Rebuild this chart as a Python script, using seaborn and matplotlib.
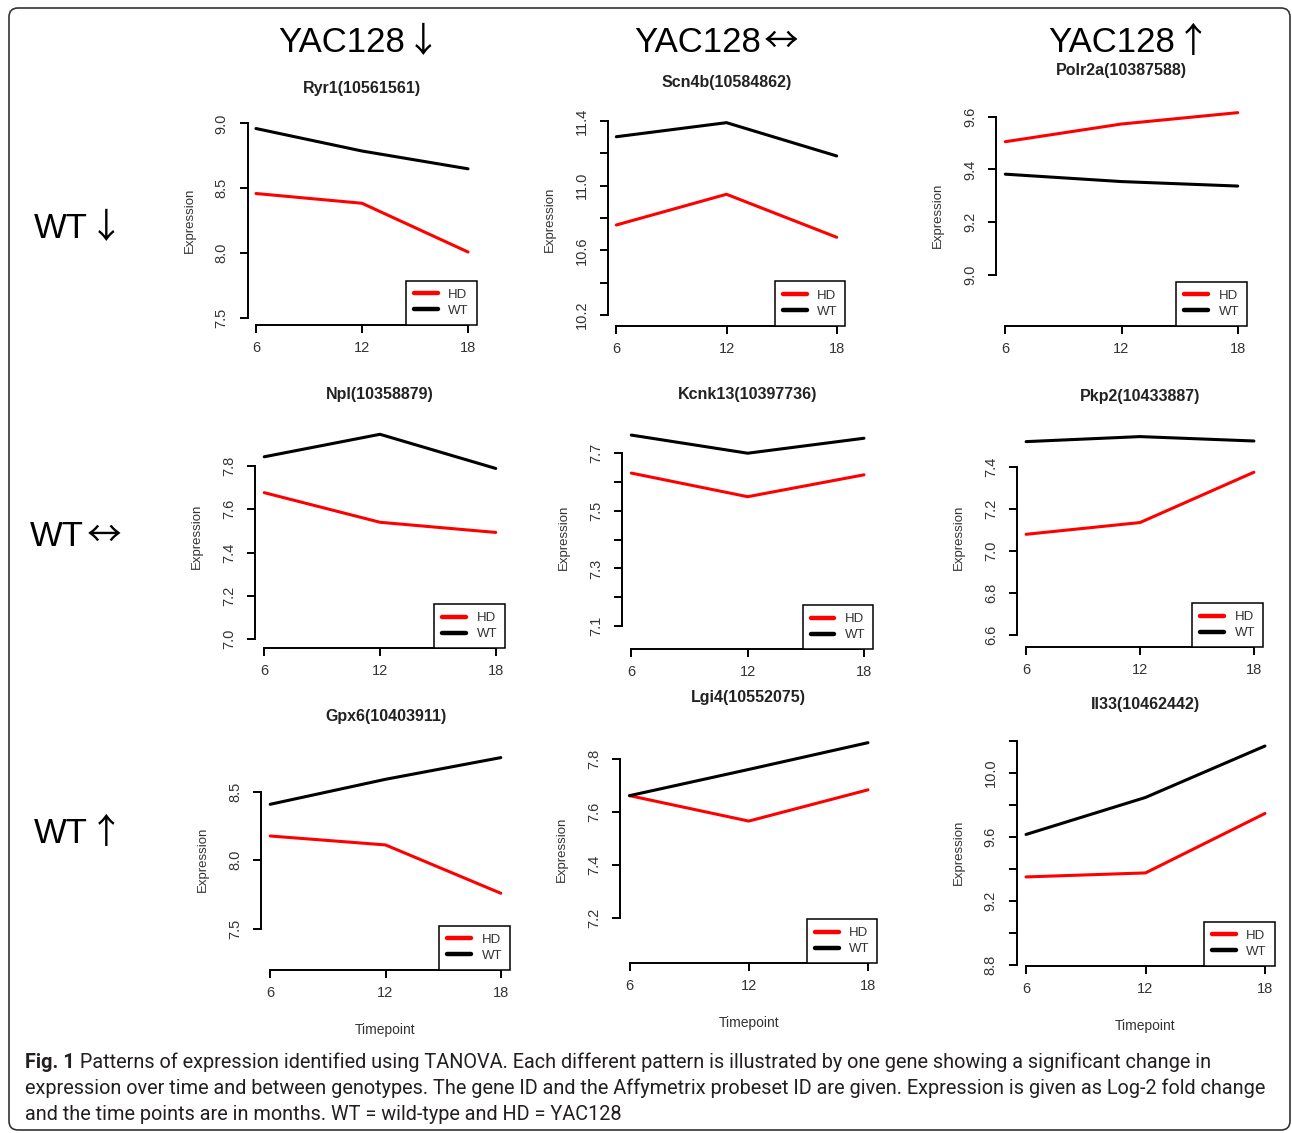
import numpy as np
import pandas as pd
import matplotlib
matplotlib.use("Agg")
import matplotlib.pyplot as plt
import seaborn as sns
from matplotlib.lines import Line2D
from matplotlib.patches import FancyBboxPatch
from matplotlib import font_manager

# ---- data ----
timepoints = [6, 12, 18]

genes = ["Ryr1(10561561)", "Scn4b(10584862)", "Polr2a(10387588)",
         "Npl(10358879)", "Kcnk13(10397736)", "Pkp2(10433887)",
         "Gpx6(10403911)", "Lgi4(10552075)", "Il33(10462442)"]

hd_values = [
    [8.46, 8.385, 8.01],
    [10.757, 10.947, 10.681],
    [9.505, 9.572, 9.615],
    [7.677, 7.540, 7.493],
    [7.631, 7.549, 7.625],
    [7.080, 7.136, 7.376],
    [8.177, 8.112, 7.760],
    [7.663, 7.567, 7.685],
    [9.350, 9.375, 9.746],
]
wt_values = [
    [8.96, 8.787, 8.65],
    [11.303, 11.39, 11.184],
    [9.382, 9.354, 9.337],
    [7.843, 7.947, 7.789],
    [7.763, 7.700, 7.752],
    [7.522, 7.546, 7.525],
    [8.408, 8.590, 8.748],
    [7.663, 7.762, 7.863],
    [9.615, 9.846, 10.167],
]

yticks = [
    [7.5, 8.0, 8.5, 9.0],
    [10.2, 10.4, 10.6, 10.8, 11.0, 11.2, 11.4],
    [9.0, 9.2, 9.4, 9.6],
    [7.0, 7.2, 7.4, 7.6, 7.8],
    [7.1, 7.2, 7.3, 7.4, 7.5, 7.6, 7.7],
    [6.6, 6.8, 7.0, 7.2, 7.4],
    [7.5, 8.0, 8.5],
    [7.2, 7.4, 7.6, 7.8],
    [8.8, 9.0, 9.2, 9.4, 9.6, 9.8, 10.0, 10.2],
]
ytick_labels = [
    ["7.5", "8.0", "8.5", "9.0"],
    ["10.2", "", "10.6", "", "11.0", "", "11.4"],
    ["9.0", "9.2", "9.4", "9.6"],
    ["7.0", "7.2", "7.4", "7.6", "7.8"],
    ["7.1", "", "7.3", "", "7.5", "", "7.7"],
    ["6.6", "6.8", "7.0", "7.2", "7.4"],
    ["7.5", "8.0", "8.5"],
    ["7.2", "7.4", "7.6", "7.8"],
    ["8.8", "", "9.2", "", "9.6", "", "10.0", ""],
]

col_headers = ["YAC128", "YAC128", "YAC128"]
col_arrows = ["\u2193", "\u2194", "\u2191"]
row_headers = ["WT", "WT", "WT"]
row_arrows = ["\u2193", "\u2194", "\u2191"]

caption_bold = "Fig. 1"
caption_lines = [
    "Patterns of expression identified using TANOVA. Each different pattern is illustrated by one gene showing a significant change in",
    "expression over time and between genotypes. The gene ID and the Affymetrix probeset ID are given. Expression is given as Log-2 fold change",
    "and the time points are in months. WT = wild-type and HD = YAC128",
]

# ---- layout (pixels): left, top, right, bottom, ylim, title y ----
layout = [
    (247.5, 115, 476.5, 325.0, (7.4485, 9.064), 89),
    (607.5, 112, 845.5, 325.7, (10.134, 11.456), 83),
    (996.0, 105, 1247.0, 326.0, (8.807, 9.644), 71),
    (255.0, 425, 505.0, 648.3, (6.957, 7.990), 395),
    (622.0, 425, 873.3, 649.3, (7.019, 7.798), 395),
    (1017.0, 428, 1263.0, 647.3, (6.541, 7.587), 396),
    (261.0, 748, 510.0, 970.0, (7.201, 8.818), 716),
    (620.0, 735, 877.5, 963.3, (7.030, 7.892), 698),
    (1016.5, 738, 1274.5, 966.0, (8.794, 10.217), 704),
]
col_x = [278, 634, 1048]     # left edge of each column header
row_x = [34, 30, 34]
row_y = [226, 534, 831]
arrow_gap = [1, 3, 1]        # px between word and arrow (down, both, up)

W, H = 1292, 1133
TEXT = "#222222"

sns.set_style("ticks")
plt.rcParams["font.family"] = ["Liberation Sans", "DejaVu Sans"]

installed = {f.name for f in font_manager.fontManager.ttflist}
cap_family = [f for f in ["Liberation Sans Narrow", "Roboto", "DejaVu Sans"] if f in installed]
arrow_family = [f for f in ["Noto Sans CJK JP", "DejaVu Sans"] if f in installed]

fig = plt.figure(figsize=(W / 100, H / 100), dpi=100)
renderer = fig.canvas.get_renderer()

palette = {"HD": "#ff0000", "WT": "#000000"}

for i, gene in enumerate(genes):
    left, top, right, bottom, ylim, title_y = layout[i]
    w_px, h_px = right - left, bottom - top
    ax = fig.add_axes([left / W, 1 - bottom / H, w_px / W, h_px / H])
    ax.set_facecolor("none")

    df = pd.DataFrame({
        "Timepoint": timepoints * 2,
        "Expression": hd_values[i] + wt_values[i],
        "Genotype": ["HD"] * 3 + ["WT"] * 3,
    })
    sns.lineplot(data=df, x="Timepoint", y="Expression", hue="Genotype",
                 hue_order=["HD", "WT"], palette=palette, linewidth=2.2,
                 errorbar=None, legend=False, ax=ax)

    ax.set_xlim(5.52, 18.48)
    ax.set_ylim(*ylim)
    ax.set_xticks(timepoints)
    ax.set_yticks(yticks[i])
    sns.despine(ax=ax, trim=True)
    ax.set_xticklabels([str(t) for t in timepoints])
    ax.set_yticklabels(ytick_labels[i], rotation=90, va="center")
    ax.set_xlabel("")
    ax.set_ylabel("")

    for s in ("left", "bottom"):
        ax.spines[s].set_linewidth(1.4)
        ax.spines[s].set_color("black")
    ax.tick_params(axis="both", length=5.5, width=1.4, color="black",
                   labelsize=10.5, labelcolor="#333333")
    ax.tick_params(axis="x", pad=6)
    ax.tick_params(axis="y", pad=8)

    ax.text(0.5, (bottom - title_y) / h_px, gene, transform=ax.transAxes,
            ha="center", va="center", fontsize=11.5, fontweight="bold", color=TEXT)
    ax.text(-58 / w_px, 0.5, "Expression", transform=ax.transAxes, rotation=90,
            ha="center", va="center", fontsize=9.5, color="#333333")
    if i >= 6:
        ax.text(0.5, -60 / h_px, "Timepoint", transform=ax.transAxes,
                ha="center", va="center", fontsize=10, color="#333333")

    handles = [Line2D([], [], color=palette["HD"], lw=3.2),
               Line2D([], [], color=palette["WT"], lw=3.2)]
    leg = ax.legend(handles, ["HD", "WT"], loc="lower right", bbox_to_anchor=(1, 0),
                    borderaxespad=0, frameon=True, fancybox=False, framealpha=1,
                    edgecolor="black", fontsize=9.5, handlelength=1.8,
                    handletextpad=0.8, borderpad=0.6, labelspacing=0.3)
    leg.get_frame().set_linewidth(1.1)
    for t in leg.get_texts():
        t.set_color("#333333")


def header(x, y, word, arrow, gap):
    t = fig.text(x / W, 1 - y / H, word, ha="left", va="baseline", fontsize=25, color="black")
    wpx = t.get_window_extent(renderer).width
    fig.text((x + wpx + gap) / W, 1 - y / H, arrow, ha="left", va="baseline",
             fontsize=25, family=arrow_family, color="black")


# column and row headers (y given as baseline)
for x, word, arrow, gap in zip(col_x, col_headers, col_arrows, arrow_gap):
    header(x, 52, word, arrow, gap)
for x, y, word, arrow, gap in zip(row_x, row_y, row_headers, row_arrows, arrow_gap):
    header(x, y + 12, word, arrow, gap)

# caption, sized so the first line spans the same width as the reference
cap_size = 14
probe = fig.text(0, 0, caption_bold + " " + caption_lines[0], fontsize=cap_size, family=cap_family)
width_px = probe.get_window_extent(renderer).width
probe.remove()
cap_size = cap_size * (1215 - 25) / width_px

cap_color = "#231f20"
bold = fig.text(25 / W, 1 - 1062 / H, caption_bold, fontsize=cap_size, family=cap_family,
                fontweight="bold", ha="left", va="center", color=cap_color)
bw = bold.get_window_extent(renderer).width
fig.text((25 + bw) / W, 1 - 1062 / H, " " + caption_lines[0], fontsize=cap_size,
         family=cap_family, ha="left", va="center", color=cap_color)
for k, line in enumerate(caption_lines[1:]):
    fig.text(25 / W, 1 - (1088 + 26 * k) / H, line, fontsize=cap_size, family=cap_family,
             ha="left", va="center", color=cap_color)

# rounded border around the whole figure
border = FancyBboxPatch((9 / 100, 3 / 100), (1290 - 9) / 100, (1130 - 8) / 100,
                        boxstyle="round,pad=0,rounding_size=0.09",
                        transform=fig.dpi_scale_trans, fill=False,
                        edgecolor="#333333", linewidth=1.2)
fig.patches.append(border)

fig.savefig("out.png", dpi=100)
